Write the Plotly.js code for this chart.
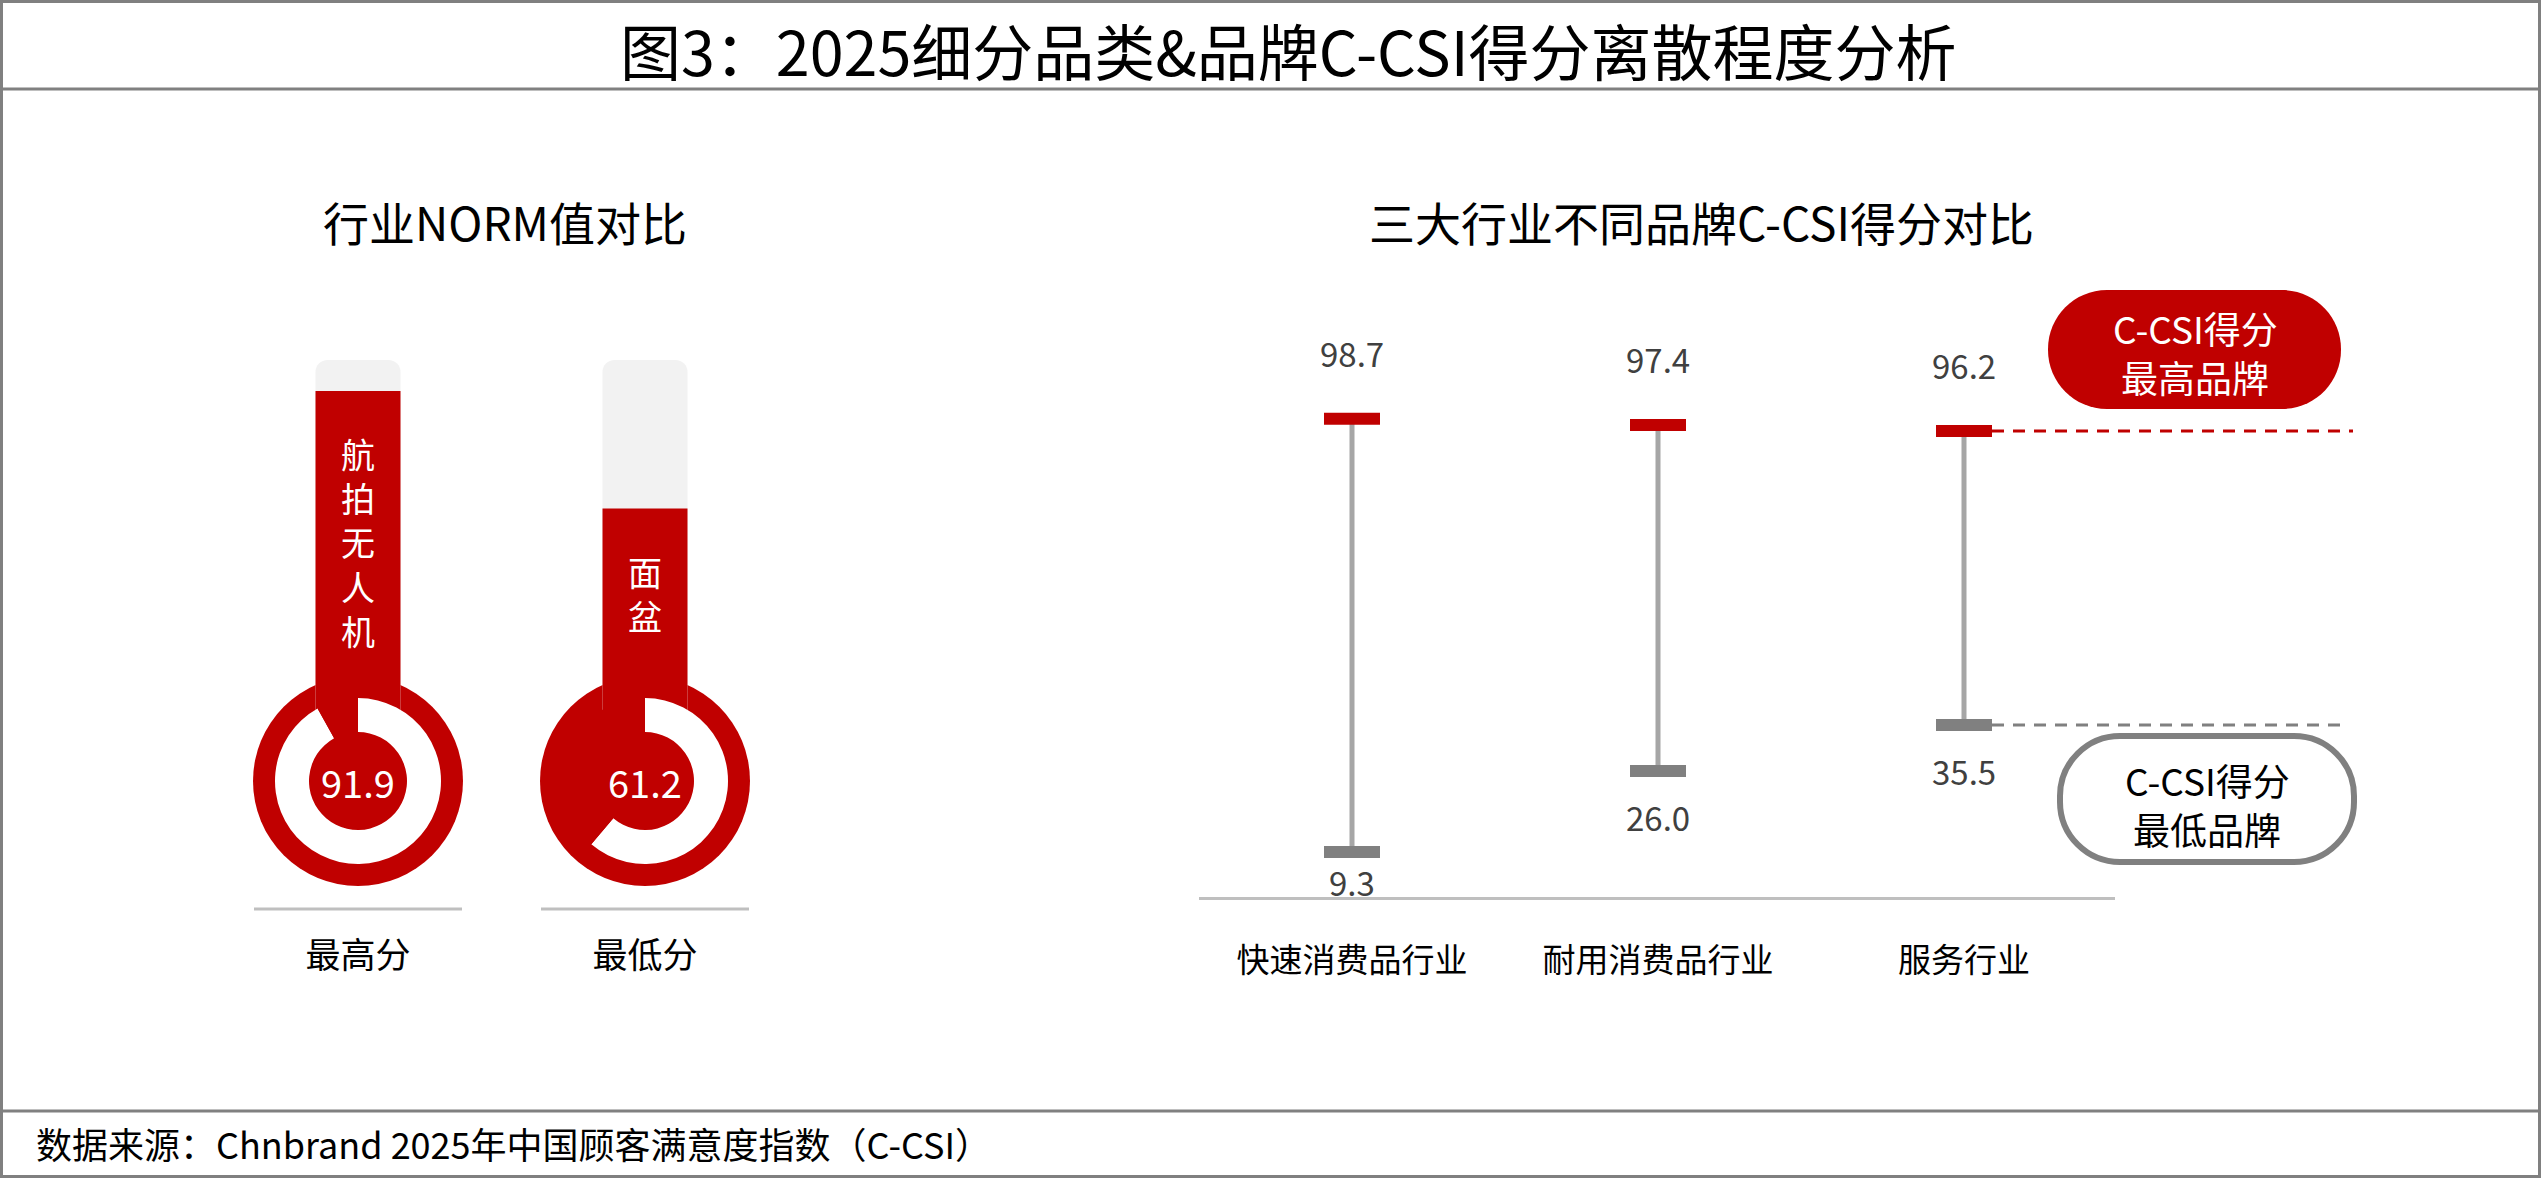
<!DOCTYPE html>
<html>
<head>
<meta charset="utf-8">
<script src="https://cdn.plot.ly/plotly-3.0.1.min.js"></script>
<style>
  html, body { margin: 0; padding: 0; background: #ffffff; }
  #chart { width: 2541px; height: 1178px; }
</style>
</head>
<body>
<div id="chart"></div>
<script>
// data
var normLabels = ['最高分', '最低分']
var normCategories = ['航拍无人机', '面盆']
var normScores = [91.9, 61.2]
var normTrack = [100, 100]

var industries = ['快速消费品行业', '耐用消费品行业', '服务行业']
var maxScores = [98.7, 97.4, 96.2]
var minScores = [9.3, 26.0, 35.5]

var chartTitle = '图3：2025细分品类&品牌C-CSI得分离散程度分析'
var leftTitle = '行业NORM值对比'
var rightTitle = '三大行业不同品牌C-CSI得分对比'
var highLegend = ['C-CSI得分', '最高品牌']
var lowLegend = ['C-CSI得分', '最低品牌']
var sourceNote = '数据来源：Chnbrand 2025年中国顾客满意度指数（C-CSI）'

var W = 2541, H = 1178
var RED = '#c00000'
var FONT = '"Noto Sans CJK SC", "Noto Sans", sans-serif'

function px2x(p){ return p / W }
function px2y(p){ return 1 - p / H }
function xRange(d0, d1, anchorPx, step){ return [-(anchorPx - d0) / step, (d1 - anchorPx) / step] }
function yRange(top, bottom, zeroPx, ppu){ return [(zeroPx - bottom) / ppu, (zeroPx - top) / ppu] }

// rounded rect path in paper coords (pixel input)
function roundRect(x0, y0, x1, y1, r){
    var k = 0.5523 * r
    var P = function(x, y){ return px2x(x) + ',' + px2y(y) }
    return 'M' + P(x0 + r, y0) + ' L' + P(x1 - r, y0) +
        ' C' + P(x1 - r + k, y0) + ' ' + P(x1, y0 + r - k) + ' ' + P(x1, y0 + r) +
        ' L' + P(x1, y1 - r) +
        ' C' + P(x1, y1 - r + k) + ' ' + P(x1 - r + k, y1) + ' ' + P(x1 - r, y1) +
        ' L' + P(x0 + r, y1) +
        ' C' + P(x0 + r - k, y1) + ' ' + P(x0, y1 - r + k) + ' ' + P(x0, y1 - r) +
        ' L' + P(x0, y0 + r) +
        ' C' + P(x0, y0 + r - k) + ' ' + P(x0 + r - k, y0) + ' ' + P(x0 + r, y0) + ' Z'
}

// left panel geometry (pixels)
var thermo = {x0: 358, step: 287, tube: 85, zeroY: 743, ppu: 3.83, bulbY: 781, bulbR: 105, ringOut: 83, ringIn: 49}
var leftDom = {x0: 150, x1: 860, top: 300, bottom: 912}
// right panel geometry (pixels)
var dumb = {x0: 1352, step: 306, zeroY: 897, ppu: 4.845}
var rightDom = {x0: 1199, x1: 2115, top: 300, bottom: 897}

var traces = []
var normIdx = normScores.map(function(v, i){ return i })

// thermometer tubes
traces.push({
    type: 'bar', x: normIdx, y: normTrack, xaxis: 'x', yaxis: 'y',
    width: thermo.tube / thermo.step,
    marker: {color: '#f2f2f2', cornerradius: 12, line: {width: 0}},
    hoverinfo: 'skip', showlegend: false
})
traces.push({
    type: 'bar', x: normIdx, y: normScores, xaxis: 'x', yaxis: 'y',
    width: thermo.tube / thermo.step,
    marker: {color: RED, cornerradius: 12, line: {width: 0}},
    hoverinfo: 'skip', showlegend: false
})

// bulb rings: white arc = score share of the full circle
normScores.forEach(function(v, i){
    var cx = thermo.x0 + i * thermo.step
    traces.push({
        type: 'pie', values: [v, 100 - v], sort: false, direction: 'clockwise', rotation: 0,
        hole: thermo.ringIn / thermo.ringOut,
        marker: {colors: ['#ffffff', RED], line: {width: 0}},
        textinfo: 'none', hoverinfo: 'skip', showlegend: false,
        domain: {
            x: [px2x(cx - thermo.ringOut), px2x(cx + thermo.ringOut)],
            y: [px2y(thermo.bulbY + thermo.ringOut), px2y(thermo.bulbY - thermo.ringOut)]
        }
    })
})

// dumbbell connectors
var lx = [], ly = []
industries.forEach(function(c, i){
    lx.push(i, i, null)
    ly.push(minScores[i], maxScores[i], null)
})
traces.push({
    type: 'scatter', mode: 'lines', x: lx, y: ly, xaxis: 'x2', yaxis: 'y2',
    line: {color: '#a6a6a6', width: 5}, hoverinfo: 'skip', showlegend: false
})
var catIdx = industries.map(function(c, i){ return i })
traces.push({
    type: 'scatter', mode: 'markers', x: catIdx, y: maxScores, xaxis: 'x2', yaxis: 'y2',
    marker: {symbol: 'line-ew', size: 40, line: {color: RED, width: 12}},
    hoverinfo: 'skip', showlegend: false
})
traces.push({
    type: 'scatter', mode: 'markers', x: catIdx, y: minScores, xaxis: 'x2', yaxis: 'y2',
    marker: {symbol: 'line-ew', size: 40, line: {color: '#808080', width: 12}},
    hoverinfo: 'skip', showlegend: false
})

var shapes = []
var annotations = []

// frame
shapes.push({type: 'rect', xref: 'paper', yref: 'paper', x0: px2x(1.5), x1: px2x(W - 1.5), y0: px2y(H - 1.5), y1: px2y(1.5),
    line: {color: '#808080', width: 3}, layer: 'below'})
shapes.push({type: 'line', xref: 'paper', yref: 'paper', x0: 0, x1: 1, y0: px2y(89), y1: px2y(89),
    line: {color: '#808080', width: 3}, layer: 'below'})
shapes.push({type: 'line', xref: 'paper', yref: 'paper', x0: 0, x1: 1, y0: px2y(1111), y1: px2y(1111),
    line: {color: '#808080', width: 3}, layer: 'below'})

// bulbs and baselines
normScores.forEach(function(v, i){
    var cx = thermo.x0 + i * thermo.step
    shapes.push({type: 'circle', xref: 'paper', yref: 'paper',
        x0: px2x(cx - thermo.bulbR), x1: px2x(cx + thermo.bulbR),
        y0: px2y(thermo.bulbY + thermo.bulbR), y1: px2y(thermo.bulbY - thermo.bulbR),
        fillcolor: RED, line: {width: 0}, layer: 'below'})
    shapes.push({type: 'line', xref: 'paper', yref: 'paper',
        x0: px2x(cx - 104), x1: px2x(cx + 104), y0: px2y(909), y1: px2y(909),
        line: {color: '#bfbfbf', width: 3}, layer: 'below'})
    annotations.push({xref: 'paper', yref: 'paper', x: px2x(cx), y: px2y(thermo.bulbY),
        text: v.toFixed(1), showarrow: false, xanchor: 'center', yanchor: 'middle',
        font: {family: FONT, size: 38, color: '#ffffff'}})
    // vertical category name inside the tube
    annotations.push({xref: 'x', yref: 'y', x: i, y: v, text: Array.from(normCategories[i]).join('<br>'),
        showarrow: false, xanchor: 'center', yanchor: 'top', yshift: -36, align: 'center',
        font: {family: FONT, size: 34, color: '#ffffff'}})
})

// dashed guides for the last industry
var last = industries.length - 1
var lastX = dumb.x0 + last * dumb.step
shapes.push({type: 'line', xref: 'paper', yref: 'y2', x0: px2x(lastX + 28), x1: px2x(2353),
    y0: maxScores[last], y1: maxScores[last], line: {color: RED, width: 3, dash: '12px,9px'}, layer: 'below'})
shapes.push({type: 'line', xref: 'paper', yref: 'y2', x0: px2x(lastX + 28), x1: px2x(2347),
    y0: minScores[last], y1: minScores[last], line: {color: '#808080', width: 3, dash: '12px,9px'}, layer: 'below'})

// legend pills
shapes.push({type: 'path', xref: 'paper', yref: 'paper', path: roundRect(2048, 290, 2341, 409, 59),
    fillcolor: RED, line: {width: 0}, layer: 'above'})
shapes.push({type: 'path', xref: 'paper', yref: 'paper', path: roundRect(2060, 736, 2354, 862, 60),
    fillcolor: '#ffffff', line: {color: '#808080', width: 6}, layer: 'above'})
highLegend.forEach(function(t, j){
    annotations.push({xref: 'paper', yref: 'paper', x: px2x(2195), y: px2y(328 + j * 49), text: t,
        showarrow: false, xanchor: 'center', yanchor: 'middle',
        font: {family: FONT, size: 37, color: '#ffffff'}})
})
lowLegend.forEach(function(t, j){
    annotations.push({xref: 'paper', yref: 'paper', x: px2x(2207), y: px2y(780 + j * 49), text: t,
        showarrow: false, xanchor: 'center', yanchor: 'middle',
        font: {family: FONT, size: 37, color: '#000000'}})
})

// value labels
industries.forEach(function(c, i){
    annotations.push({xref: 'x2', yref: 'y2', x: i, y: maxScores[i], text: maxScores[i].toFixed(1),
        showarrow: false, xanchor: 'center', yanchor: 'middle', yshift: 66,
        font: {family: FONT, size: 33, color: '#404040'}})
    var room = minScores[i] * dumb.ppu - 15
    annotations.push({xref: 'x2', yref: 'y2', x: i, y: minScores[i], text: minScores[i].toFixed(1),
        showarrow: false, xanchor: 'center', yanchor: 'middle', yshift: -Math.min(46, room),
        font: {family: FONT, size: 33, color: '#404040'}})
})

// titles
annotations.push({xref: 'paper', yref: 'paper', x: px2x(1288), y: px2y(50), text: chartTitle,
    showarrow: false, xanchor: 'center', yanchor: 'middle', font: {family: FONT, size: 61, color: '#000000'}})
annotations.push({xref: 'paper', yref: 'paper', x: px2x(505), y: px2y(221), text: leftTitle,
    showarrow: false, xanchor: 'center', yanchor: 'middle', font: {family: FONT, size: 46, color: '#000000'}})
annotations.push({xref: 'paper', yref: 'paper', x: px2x(1701), y: px2y(221), text: rightTitle,
    showarrow: false, xanchor: 'center', yanchor: 'middle', font: {family: FONT, size: 46, color: '#000000'}})
annotations.push({xref: 'paper', yref: 'paper', x: px2x(34), y: px2y(1143), text: sourceNote,
    showarrow: false, xanchor: 'left', yanchor: 'middle', font: {family: FONT, size: 36, color: '#000000'}})

var layout = {
    width: W, height: H,
    margin: {l: 0, r: 0, t: 0, b: 0},
    paper_bgcolor: '#ffffff', plot_bgcolor: 'rgba(0,0,0,0)',
    barmode: 'overlay',
    font: {family: FONT},
    xaxis: {
        domain: [px2x(leftDom.x0), px2x(leftDom.x1)],
        range: xRange(leftDom.x0, leftDom.x1, thermo.x0, thermo.step),
        anchor: 'y', tickvals: normIdx, ticktext: normLabels, ticks: '', ticklabelstandoff: 20,
        showgrid: false, zeroline: false, showline: false, fixedrange: true,
        tickfont: {family: FONT, size: 35, color: '#000000'}
    },
    yaxis: {
        domain: [px2y(leftDom.bottom), px2y(leftDom.top)],
        range: yRange(leftDom.top, leftDom.bottom, thermo.zeroY, thermo.ppu),
        anchor: 'x', visible: false, fixedrange: true
    },
    xaxis2: {
        domain: [px2x(rightDom.x0), px2x(rightDom.x1)],
        range: xRange(rightDom.x0, rightDom.x1, dumb.x0, dumb.step),
        anchor: 'y2', tickvals: catIdx, ticktext: industries, ticks: '', ticklabelstandoff: 32,
        showgrid: false, zeroline: false, showline: true, linecolor: '#bfbfbf', linewidth: 3, fixedrange: true,
        tickfont: {family: FONT, size: 33, color: '#000000'}
    },
    yaxis2: {
        domain: [px2y(rightDom.bottom), px2y(rightDom.top)],
        range: yRange(rightDom.top, rightDom.bottom, dumb.zeroY, dumb.ppu),
        anchor: 'x2', visible: false, fixedrange: true
    },
    shapes: shapes,
    annotations: annotations
}

Plotly.newPlot('chart', traces, layout, {displayModeBar: false, staticPlot: true})
</script>
</body>
</html>
